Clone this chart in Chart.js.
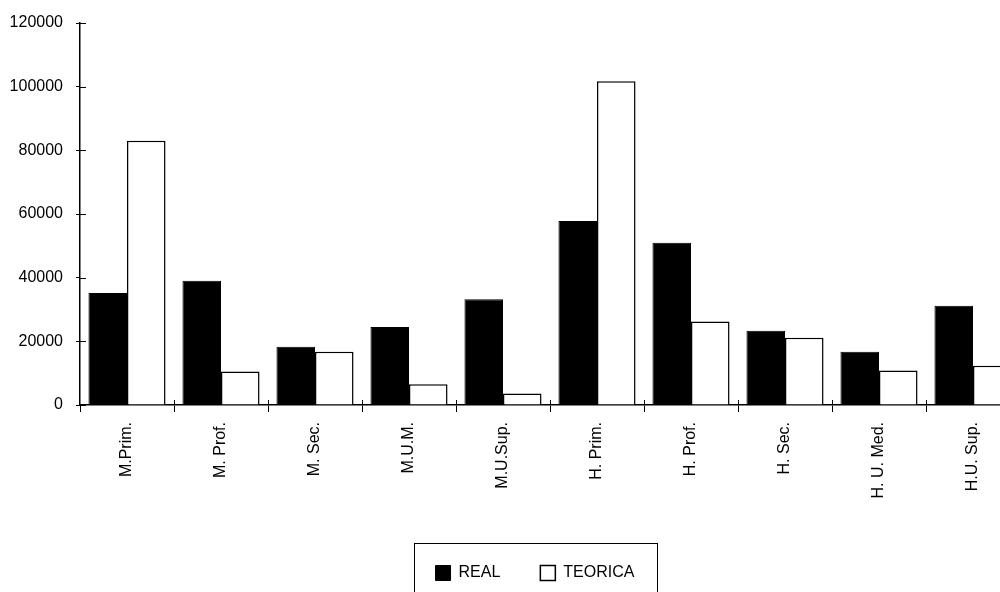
<!DOCTYPE html>
<html>
<head>
<meta charset="utf-8">
<script src="https://cdn.jsdelivr.net/npm/chart.js@4.4.1/dist/chart.umd.min.js"></script>
<style>
    html, body { margin: 0; padding: 0; background: #fff; overflow: hidden; }
    #wrap { width: 1000px; height: 592px; overflow: hidden; }
    canvas { display: block; }
</style>
</head>
<body>
<div id="wrap">
    <canvas id="bar_chart" width="1070" height="592"></canvas>
</div>
<script>
    // Data
    const categories = ["M.Prim.", "M. Prof.", "M. Sec.", "M.U.M.", "M.U.Sup.", "H. Prim.", "H. Prof.", "H. Sec.", "H. U. Med.", "H.U. Sup."];
    const real_values = [35200, 39000, 18300, 24500, 33200, 57800, 51000, 23300, 16700, 31200];
    const teorica_values = [83000, 10500, 16700, 6500, 3600, 101700, 26200, 21100, 10800, 12300];
    const y_ticks = [0, 20000, 40000, 60000, 80000, 100000, 120000];

    const font_family = "'Liberation Sans', Arial, sans-serif";

    // small ticks crossing the axes (inside part) + frame round the legend
    const extras = {
        id: "extras",
        afterDraw(chart) {
            const ctx = chart.ctx;
            const x = chart.scales.x;
            const y = chart.scales.y;
            ctx.save();
            ctx.strokeStyle = "#000";
            ctx.lineWidth = 1;
            ctx.beginPath();
            y_ticks.forEach(function (v) {
                const py = Math.round(y.getPixelForValue(v)) + 0.5;
                ctx.moveTo(x.left, py);
                ctx.lineTo(x.left + 6, py);
            });
            for (let i = 1; i <= categories.length; i++) {
                const px = Math.round((x.getPixelForValue(i - 1) + x.getPixelForValue(i)) / 2) + 0.5;
                ctx.moveTo(px, y.bottom);
                ctx.lineTo(px, y.bottom - 5);
            }
            ctx.stroke();

            const boxes = chart.legend.legendHitBoxes;
            if (boxes && boxes.length) {
                const first = boxes[0];
                const last = boxes[boxes.length - 1];
                const pad = 22;
                ctx.strokeRect(Math.round(first.left - pad) + 0.5, Math.round(first.top - pad) + 0.5,
                    Math.round(last.left + last.width - first.left + 2 * pad), Math.round(first.height + 2 * pad));
            }
            ctx.restore();
        }
    };

    new Chart(document.getElementById("bar_chart"), {
        type: "bar",
        data: {
            labels: categories,
            datasets: [
                {
                    label: "REAL",
                    data: real_values,
                    backgroundColor: "#000",
                    borderColor: "#000",
                    borderWidth: 1
                },
                {
                    label: "TEORICA",
                    data: teorica_values,
                    backgroundColor: "#fff",
                    borderColor: "#000",
                    borderWidth: 1.5
                }
            ]
        },
        options: {
            responsive: false,
            animation: false,
            categoryPercentage: 0.82,
            barPercentage: 1.0,
            layout: { padding: { top: 23, bottom: 1, left: 0, right: 0 } },
            plugins: {
                tooltip: { enabled: false },
                legend: {
                    position: "bottom",
                    labels: {
                        color: "#000",
                        font: { family: font_family, size: 16 },
                        boxWidth: 15,
                        boxHeight: 15,
                        padding: 40
                    }
                }
            },
            scales: {
                x: {
                    grid: {
                        offset: true,
                        drawOnChartArea: false,
                        tickLength: 7,
                        color: "#000"
                    },
                    border: { color: "#000", width: 1.5 },
                    ticks: {
                        color: "#000",
                        font: { family: font_family, size: 16 },
                        minRotation: 90,
                        maxRotation: 90,
                        padding: 10
                    },
                    afterFit: function (scale) { scale.height = 120; }
                },
                y: {
                    min: 0,
                    max: 120000,
                    grid: {
                        drawOnChartArea: false,
                        tickLength: 4,
                        color: "#000"
                    },
                    border: { color: "#000", width: 1.5 },
                    ticks: {
                        stepSize: 20000,
                        color: "#000",
                        font: { family: font_family, size: 16 },
                        padding: 13,
                        callback: function (value) { return String(value); }
                    },
                    afterFit: function (scale) { scale.width = 80; }
                },
                y2: {
                    position: "right",
                    min: 0,
                    max: 1,
                    grid: { display: false },
                    border: { display: false },
                    ticks: { display: false },
                    afterFit: function (scale) { scale.width = 50; }
                }
            }
        },
        plugins: [extras]
    });
</script>
</body>
</html>
